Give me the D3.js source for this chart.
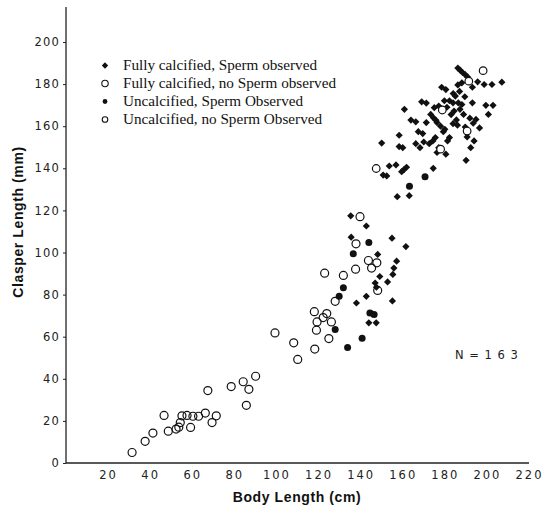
<!DOCTYPE html>
<html>
<head>
<meta charset="utf-8">
<script src="https://cdn.jsdelivr.net/npm/d3@7"></script>
<style>
html,body{margin:0;padding:0;background:#fff;}
svg{display:block;}
</style>
</head>
<body>
<script>
// ---- Data (Body Length cm, Clasper Length mm) ----
const fullySperm = [
  [135.3,117.4],[135.5,107.3],[142.7,112.6],[148.1,99.1],[149.1,88.6],[146.9,85.5],[147.5,83.5],
  [138.0,76.0],[142.7,79.2],[143.9,66.6],[147.4,66.6],[152.8,86.0],[155.3,89.6],[155.8,92.6],
  [157.1,95.9],[154.9,106.8],[161.5,102.8],[155.1,77.0],[145.5,70.8],
  [157.4,126.5],[163.1,127.0],[152.4,136.4],[150.7,136.8],[153.6,141.1],[156.8,141.6],[159.5,138.4],
  [161.8,140.5],[160.6,139.4],[174.5,140.0],[150.0,152.0],[158.3,155.7],[158.3,150.3],[160.0,149.8],
  [160.8,168.0],[166.2,151.7],[168.2,149.8],[166.2,162.1],[169.5,156.5],[171.2,161.7],[171.2,171.0],
  [172.6,151.7],[174.3,153.0],[175.5,154.6],[173.3,165.6],[174.6,164.0],[175.8,162.8],[176.3,161.7],
  [176.3,147.5],[177.1,149.8],[179.3,157.4],[180.5,177.4],[180.5,146.7],[181.3,153.0],[182.2,154.6],
  [179.8,172.1],[182.2,172.1],[183.9,171.1],[183.9,161.2],[185.0,174.3],[186.4,171.1],[187.2,168.0],
  [188.1,170.3],[186.2,187.6],[187.4,186.5],[188.4,185.5],[189.7,184.5],[190.8,183.4],[188.1,180.6],
  [186.2,179.6],[188.9,165.6],[189.7,159.6],[190.6,154.9],[192.3,149.8],[190.1,143.8],[193.1,171.1],
  [193.9,153.0],[194.8,163.2],[196.5,159.2],[195.6,181.1],[193.1,178.5],[198.7,179.8],[202.4,179.8],
  [207.1,180.9],[199.5,169.9],[202.9,169.9],[200.7,165.6],[184.4,167.2],[177.1,169.6],[175.0,168.8],
  [169.0,171.6],[163.9,162.9],[167.4,157.4],[191.9,163.8],[193.5,161.4],[178.5,178.5],[181.0,169.0],
  [183.0,165.5],[185.5,163.0],[178.0,160.0],[180.0,158.5],[170.0,152.5],[186.0,160.5],[184.0,175.5],
  [187.0,176.5],[189.5,174.0]
];
const fullyNoSperm = [
  [147.4,139.9],[198.2,186.4],[191.4,181.4],[178.8,167.7],[190.6,157.7],[178.0,149.1]
];
const uncalcSperm = [
  [133.8,54.9],[127.9,63.4],[129.8,79.2],[131.8,83.3],[136.5,99.4],[143.9,104.7],[140.7,59.3],
  [144.4,71.3],[146.4,70.5],[163.2,131.5],[170.6,136.0]
];
const uncalcNoSperm = [
  [31.4,5.0],[37.6,10.3],[41.3,14.2],[46.6,22.6],[48.6,15.1],[52.3,16.1],[53.6,17.0],[54.3,19.2],
  [55.1,22.4],[57.5,22.6],[60.3,22.2],[63.0,22.2],[66.2,23.7],[59.2,16.9],[67.4,34.4],[69.4,19.2],
  [71.4,22.4],[78.5,36.3],[84.2,38.6],[86.9,35.0],[85.7,27.4],[90.1,41.2],[99.3,61.8],[108.2,57.1],
  [110.1,49.2],[118.2,54.1],[118.0,71.9],[119.0,63.1],[119.3,67.0],[122.2,69.1],[123.9,71.0],
  [126.1,67.0],[124.9,59.1],[122.9,90.2],[127.9,76.8],[131.8,89.1],[137.6,92.1],[137.8,104.1],
  [139.7,117.0],[143.7,96.2],[145.2,92.6],[147.7,95.1],[148.1,82.0]
];
const xTicks = [20,40,60,80,100,120,140,160,180,200,220];
const yTicks = [0,20,40,60,80,100,120,140,160,180,200];
const legendLabels = [
  "Fully calcified, Sperm observed",
  "Fully calcified, no Sperm observed",
  "Uncalcified, Sperm Observed",
  "Uncalcified, no Sperm Observed"
];
const nLabel = "N = 1 6 3";

// ---- Layout ----
const W = 547, H = 510;
const svg = d3.select("body").append("svg").attr("width", W).attr("height", H);

const x = d3.scaleLinear().domain([0, 220]).range([66, 529]);
const y = d3.scaleLinear().domain([0, 200]).range([463, 42]);

const tickFont = "'DejaVu Sans', sans-serif";

// Axes lines
svg.append("line").attr("x1", x(0)).attr("x2", x(0)).attr("y1", 7).attr("y2", y(0))
  .attr("stroke", "#222").attr("stroke-width", 1.3);
svg.append("line").attr("x1", x(0)).attr("x2", x(220)).attr("y1", y(0)).attr("y2", y(0))
  .attr("stroke", "#222").attr("stroke-width", 1.3);

// Y ticks
const yAxis = d3.axisLeft(y).tickValues(yTicks).tickSize(3).tickPadding(3).tickFormat(d3.format("d"));
const gy = svg.append("g").attr("transform", `translate(${x(0)},0)`).call(yAxis);
gy.select(".domain").remove();
gy.selectAll("line").attr("stroke", "#222");
gy.selectAll("text").attr("font-family", tickFont).attr("font-size", 11.5)
  .attr("letter-spacing", "1.2px").attr("fill", "#222");

// X ticks
const xAxis = d3.axisBottom(x).tickValues(xTicks).tickSize(0).tickPadding(8).tickFormat(d3.format("d"));
const gx = svg.append("g").attr("transform", `translate(0,${y(0)})`).call(xAxis);
gx.select(".domain").remove();
gx.selectAll("text").attr("font-family", tickFont).attr("font-size", 11.5)
  .attr("letter-spacing", "2px").attr("fill", "#222");

// Axis titles
svg.append("text").attr("x", 297).attr("y", 502).attr("text-anchor", "middle")
  .attr("font-family", "'Liberation Sans', Arial, sans-serif").attr("font-weight", "bold")
  .attr("font-size", 14).attr("letter-spacing", "0.6px").attr("fill", "#111")
  .text("Body Length (cm)");
svg.append("text").attr("transform", "translate(23,222) rotate(-90)").attr("text-anchor", "middle")
  .attr("font-family", "'Liberation Sans', Arial, sans-serif").attr("font-weight", "bold")
  .attr("font-size", 14).attr("letter-spacing", "0.6px").attr("fill", "#111")
  .text("Clasper Length (mm)");

// Marker drawing
function diamond(g, cx, cy, r) {
  g.append("path")
    .attr("d", `M${cx},${cy - r}L${cx + r},${cy}L${cx},${cy + r}L${cx - r},${cy}Z`)
    .attr("fill", "#111");
}
const plot = svg.append("g");
uncalcNoSperm.forEach(d => plot.append("circle").attr("cx", x(d[0])).attr("cy", y(d[1])).attr("r", 4)
  .attr("fill", "none").attr("stroke", "#111").attr("stroke-width", 1.2));
fullySperm.forEach(d => diamond(plot, x(d[0]), y(d[1]), 3.6));
uncalcSperm.forEach(d => plot.append("circle").attr("cx", x(d[0])).attr("cy", y(d[1])).attr("r", 3.5)
  .attr("fill", "#111"));
fullyNoSperm.forEach(d => plot.append("circle").attr("cx", x(d[0])).attr("cy", y(d[1])).attr("r", 3.8)
  .attr("fill", "#fff").attr("stroke", "#111").attr("stroke-width", 1.2));

// Legend
const lg = svg.append("g");
const ly = [70, 88, 106, 124];
diamond(lg, 105, ly[0] - 4.5, 3.2);
lg.append("circle").attr("cx", 105).attr("cy", ly[1] - 4.5).attr("r", 3.2).attr("fill", "none")
  .attr("stroke", "#111").attr("stroke-width", 1.1);
lg.append("circle").attr("cx", 105).attr("cy", ly[2] - 4.5).attr("r", 2.4).attr("fill", "#111");
lg.append("circle").attr("cx", 105).attr("cy", ly[3] - 4.5).attr("r", 2.8).attr("fill", "none")
  .attr("stroke", "#111").attr("stroke-width", 1.1);
legendLabels.forEach((t, i) => lg.append("text").attr("x", 123).attr("y", ly[i])
  .attr("font-family", "'Liberation Serif', 'Times New Roman', serif").attr("font-size", 15.2)
  .attr("fill", "#111").text(t));

// N label
svg.append("text").attr("x", 455).attr("y", 359)
  .attr("font-family", tickFont).attr("font-size", 11.5).attr("letter-spacing", "1px")
  .attr("fill", "#222").text(nLabel);
</script>
</body>
</html>
